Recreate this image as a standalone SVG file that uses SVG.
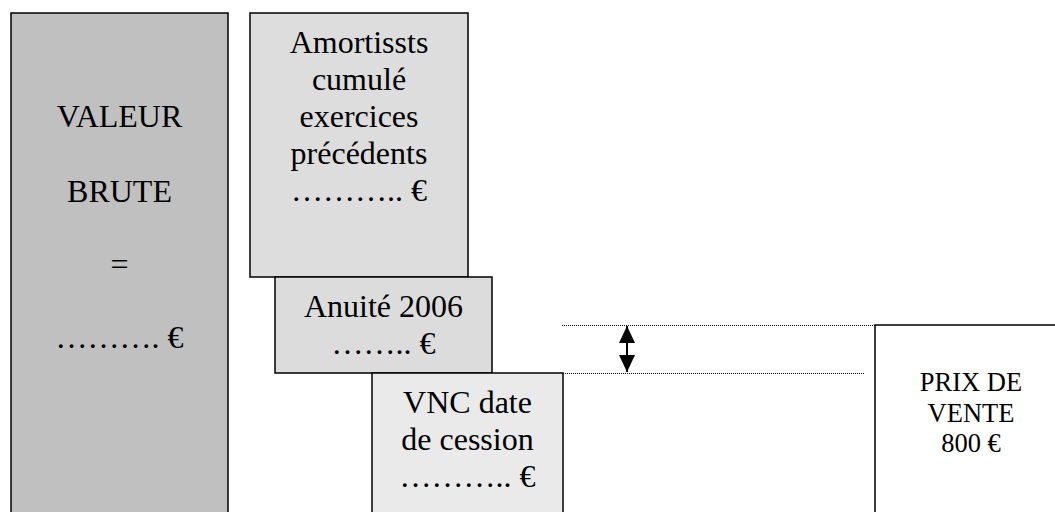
<svg xmlns="http://www.w3.org/2000/svg" width="1055" height="512" viewBox="0 0 1055 512">
<style>
.box{stroke:#000;stroke-width:1.5}
.t{font-family:"Liberation Serif","Times New Roman","DejaVu Serif",serif;font-size:32px;fill:#000;text-anchor:middle}
.s{font-size:26.5px}
.dot{stroke:#000;stroke-width:1;stroke-dasharray:1 1;fill:none}
</style>
<defs>
<marker id="ah" viewBox="0 0 17 16" refX="17" refY="8" markerWidth="17" markerHeight="16" markerUnits="userSpaceOnUse" orient="auto-start-reverse">
<path d="M0,0 L17,8 L0,16 Z" fill="#000"/>
</marker>
</defs>
<rect width="1055" height="512" fill="#fff"/>
<g id="valeur-brute">
<rect class="box" x="11" y="13" width="217" height="510" fill="#c0c0c0"/>
<text class="t" x="119.5" y="127">VALEUR</text>
<text class="t" x="119.5" y="202">BRUTE</text>
<text class="t" x="119.5" y="275">=</text>
<text class="t" x="119.5" y="348">………. €</text>
</g>
<g id="amortissements">
<rect class="box" x="250" y="13" width="218" height="264" fill="#dddddd"/>
<text class="t" x="359" y="53">Amortissts</text>
<text class="t" x="359" y="90">cumulé</text>
<text class="t" x="359" y="127">exercices</text>
<text class="t" x="359" y="164">précédents</text>
<text class="t" x="359" y="201">……….. €</text>
</g>
<g id="anuite">
<rect class="box" x="275" y="277" width="217" height="96" fill="#dcdcdc"/>
<text class="t" x="383.5" y="317">Anuité 2006</text>
<text class="t" x="383.5" y="354">…….. €</text>
</g>
<g id="vnc">
<rect class="box" x="372" y="373" width="191" height="150" fill="#eaeaea"/>
<text class="t" x="467.5" y="413">VNC date</text>
<text class="t" x="467.5" y="450">de cession</text>
<text class="t" x="467.5" y="487">……….. €</text>
</g>
<g id="prix-de-vente">
<rect class="box" x="875" y="325" width="200" height="200" fill="#fff"/>
<text class="t s" x="971" y="391">PRIX DE</text>
<text class="t s" x="971" y="422">VENTE</text>
<text class="t s" x="971" y="452">800 €</text>
</g>
<g id="connectors">
<line class="dot" x1="562" y1="325.5" x2="875" y2="325.5"/>
<line class="dot" x1="563" y1="373.5" x2="865" y2="373.5"/>
<line x1="627" y1="326" x2="627" y2="372" stroke="#000" stroke-width="2" marker-start="url(#ah)" marker-end="url(#ah)"/>
</g>
</svg>
